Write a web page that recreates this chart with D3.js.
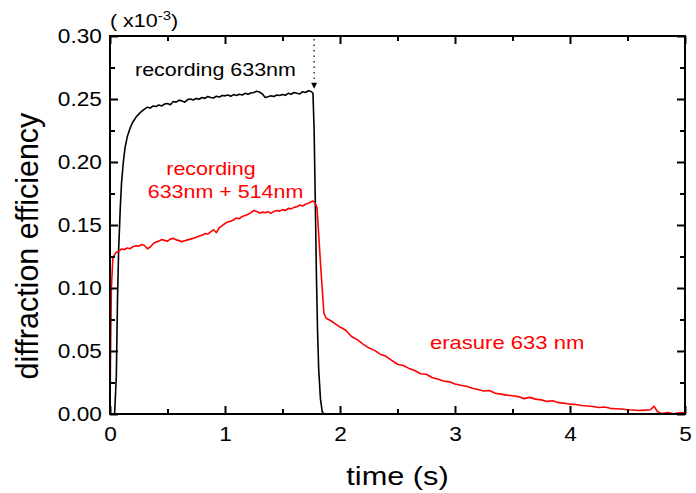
<!DOCTYPE html>
<html>
<head>
<meta charset="utf-8">
<script src="https://cdn.jsdelivr.net/npm/d3@7"></script>
<style>
  body { margin: 0; background: #fff; }
  svg text { font-family: "Liberation Sans", Arial, sans-serif; }
</style>
</head>
<body>
<svg id="canvas" width="696" height="493"></svg>
<script>
// recording with 633nm only
let blackTime = [0, 0.04, 0.055, 0.065, 0.075, 0.09, 0.10, 0.115, 0.13, 0.15, 0.175, 0.20, 0.23, 0.26, 0.28,
    0.30, 0.325, 0.35, 0.375, 0.40, 0.425, 0.45, 0.475, 0.50, 0.525, 0.55, 0.575, 0.60, 0.625, 0.65, 0.675,
    0.70, 0.725, 0.75, 0.775, 0.80, 0.825, 0.85, 0.875, 0.90, 0.925, 0.95, 0.975, 1.00, 1.025, 1.05, 1.075,
    1.10, 1.125, 1.15, 1.175, 1.20, 1.225, 1.25, 1.275, 1.30, 1.325, 1.35, 1.375, 1.40, 1.425, 1.45, 1.475,
    1.50, 1.525, 1.55, 1.575, 1.60, 1.625, 1.65, 1.675, 1.70, 1.725, 1.75, 1.765,
    1.775, 1.785, 1.795, 1.805, 1.815, 1.83, 1.845, 1.86]
let blackValue = [0, 0, 0.03, 0.09, 0.13, 0.165, 0.183, 0.199, 0.211, 0.220, 0.227, 0.232, 0.236, 0.239, 0.2405,
    0.242, 0.2435, 0.2428, 0.2445, 0.2440, 0.2452, 0.2445, 0.246, 0.2465, 0.2455, 0.248, 0.2475, 0.249, 0.2485, 0.2475, 0.2495,
    0.250, 0.2492, 0.2505, 0.2498, 0.2512, 0.2505, 0.252, 0.2512, 0.2508, 0.2522, 0.2515, 0.2528, 0.2525, 0.2532, 0.2522, 0.2535,
    0.2528, 0.2538, 0.2532, 0.2545, 0.2538, 0.2548, 0.2552, 0.2562, 0.2555, 0.2540, 0.2512, 0.2518, 0.2525, 0.2520, 0.2532, 0.2528,
    0.2535, 0.2530, 0.2545, 0.2538, 0.2552, 0.2545, 0.2540, 0.2558, 0.2552, 0.2565, 0.2560, 0.2545,
    0.225, 0.17, 0.11, 0.065, 0.035, 0.012, 0.002, 0]

// recording 633nm + 514nm, then erasure 633nm
let redTime = [0, 0.005, 0.012, 0.025, 0.05, 0.08, 0.10, 0.125, 0.15, 0.175, 0.20, 0.225, 0.25, 0.275, 0.30, 0.325, 0.35, 0.375,
    0.40, 0.425, 0.45, 0.475, 0.50, 0.525, 0.55, 0.575, 0.60, 0.625, 0.65, 0.675, 0.70, 0.725, 0.75, 0.775,
    0.80, 0.825, 0.85, 0.875, 0.90, 0.925, 0.95, 0.975, 1.00, 1.025, 1.05, 1.075, 1.10, 1.125, 1.15, 1.175,
    1.20, 1.225, 1.25, 1.275, 1.30, 1.325, 1.35, 1.375, 1.40, 1.425, 1.45, 1.475, 1.50, 1.525, 1.55, 1.575,
    1.60, 1.625, 1.65, 1.675, 1.70, 1.725, 1.75, 1.765, 1.78, 1.80, 1.83, 1.86,
    1.88, 1.92, 1.96, 2.00, 2.05, 2.10, 2.15, 2.20, 2.25, 2.30, 2.35, 2.40, 2.45, 2.50, 2.55, 2.60, 2.65, 2.70,
    2.75, 2.80, 2.85, 2.90, 2.95, 3.00, 3.05, 3.10, 3.15, 3.20, 3.25, 3.30, 3.35, 3.40, 3.45, 3.50, 3.55, 3.60,
    3.65, 3.70, 3.75, 3.80, 3.85, 3.90, 3.95, 4.00, 4.05, 4.10, 4.15, 4.20, 4.25, 4.30, 4.35, 4.40, 4.45, 4.50,
    4.55, 4.60, 4.65, 4.70, 4.73, 4.76, 4.80, 4.85, 4.90, 4.95, 5.00]
let redValue = [0, 0.05, 0.10, 0.124, 0.128, 0.1295, 0.131, 0.1305, 0.1318, 0.1312, 0.1328, 0.1335, 0.1332, 0.1345, 0.1338, 0.1312, 0.1325, 0.1352,
    0.1365, 0.1372, 0.1385, 0.1378, 0.1372, 0.1388, 0.1395, 0.1382, 0.1376, 0.1368, 0.1375, 0.1382, 0.1388, 0.1395, 0.1402, 0.1412,
    0.1418, 0.1432, 0.1428, 0.1445, 0.1462, 0.1440, 0.1478, 0.1495, 0.1512, 0.1525, 0.1530, 0.1542, 0.1555, 0.1550, 0.1568, 0.1575,
    0.1585, 0.1598, 0.1615, 0.1608, 0.1595, 0.1602, 0.1598, 0.1605, 0.1592, 0.1608, 0.1615, 0.1610, 0.1622, 0.1615, 0.1632, 0.1628,
    0.1640, 0.1645, 0.1658, 0.1650, 0.1665, 0.1672, 0.1685, 0.1690, 0.1680, 0.164, 0.120, 0.080,
    0.0760, 0.0740, 0.0715, 0.0690, 0.0665, 0.0615, 0.0590, 0.0555, 0.0525, 0.0505, 0.0475, 0.0458, 0.0425, 0.0395, 0.0385, 0.0362, 0.0345, 0.0320,
    0.0315, 0.0290, 0.0278, 0.0262, 0.0255, 0.0238, 0.0228, 0.0220, 0.0205, 0.0195, 0.0182, 0.0186, 0.0165, 0.0158, 0.0150, 0.0145, 0.0138, 0.0122,
    0.0132, 0.0118, 0.0112, 0.0100, 0.0105, 0.0090, 0.0085, 0.0078, 0.0075, 0.0068, 0.0064, 0.0060, 0.0052, 0.0055, 0.0045, 0.0042, 0.0040, 0.0034,
    0.0032, 0.0028, 0.0031, 0.0034, 0.0062, 0.0020, 0.0003, 0.0012, 0.0002, 0.0010, 0.0012]

let xTicks = [0, 1, 2, 3, 4, 5]
let xMinor = [0.5, 1.5, 2.5, 3.5, 4.5]
let yTicks = [0, 0.05, 0.10, 0.15, 0.20, 0.25, 0.30]
let yMinor = [0.025, 0.075, 0.125, 0.175, 0.225, 0.275]

let plotLeft = 110, plotRight = 685, plotTop = 36, plotBottom = 414
let stretch = 1.16   // the original figure is a bit wider than tall

let canvas = d3.select("#canvas")

let x = d3.scaleLinear().domain([0, 5]).range([plotLeft, plotRight])
let y = d3.scaleLinear().domain([0, 0.30]).range([plotBottom, plotTop])

let line = d3.line()
    .x((d) => x(d[0]))
    .y((d) => y(d[1]))

let drawCurve = (times, values, color) => {
    let pts = times.map((t, i) => [t, values[i]])
    canvas.append("path")
        .datum(pts)
        .attr("d", line)
        .attr("fill", "none")
        .attr("stroke", color)
        .attr("stroke-width", 1.6)
        .attr("stroke-linejoin", "round")
}

drawCurve(blackTime, blackValue, "black")
drawCurve(redTime, redValue, "red")

// axes, ticks pointing inward on all four sides
let styleAxis = (g, labels) => {
    g.select(".domain").remove()
    g.selectAll("line").attr("stroke", "black").attr("stroke-width", 2)
    g.selectAll("text")
        .attr("font-size", 19.5)
        .attr("fill", "black")
        .attr("transform", "scale(" + stretch + ",1)")
    if (!labels) g.selectAll("text").remove()
}

let bottomAxis = canvas.append("g").attr("transform", "translate(0," + plotBottom + ")")
    .call(d3.axisBottom(x).tickValues(xTicks).tickFormat(d3.format("d")).tickSizeInner(-8).tickPadding(13))
styleAxis(bottomAxis, true)

let bottomMinor = canvas.append("g").attr("transform", "translate(0," + plotBottom + ")")
    .call(d3.axisBottom(x).tickValues(xMinor).tickFormat("").tickSizeInner(-5))
styleAxis(bottomMinor, false)

let topAxis = canvas.append("g").attr("transform", "translate(0," + plotTop + ")")
    .call(d3.axisTop(x).tickValues(xTicks).tickSizeInner(-8))
styleAxis(topAxis, false)
let topMinor = canvas.append("g").attr("transform", "translate(0," + plotTop + ")")
    .call(d3.axisTop(x).tickValues(xMinor).tickSizeInner(-5))
styleAxis(topMinor, false)

let leftAxis = canvas.append("g").attr("transform", "translate(" + plotLeft + ",0)")
    .call(d3.axisLeft(y).tickValues(yTicks).tickFormat(d3.format(".2f")).tickSizeInner(-8).tickPadding(7))
styleAxis(leftAxis, true)
let leftMinor = canvas.append("g").attr("transform", "translate(" + plotLeft + ",0)")
    .call(d3.axisLeft(y).tickValues(yMinor).tickSizeInner(-5))
styleAxis(leftMinor, false)

let rightAxis = canvas.append("g").attr("transform", "translate(" + plotRight + ",0)")
    .call(d3.axisRight(y).tickValues(yTicks).tickSizeInner(-8))
styleAxis(rightAxis, false)
let rightMinor = canvas.append("g").attr("transform", "translate(" + plotRight + ",0)")
    .call(d3.axisRight(y).tickValues(yMinor).tickSizeInner(-5))
styleAxis(rightMinor, false)

// frame
canvas.append("rect")
    .attr("x", plotLeft).attr("y", plotTop)
    .attr("width", plotRight - plotLeft).attr("height", plotBottom - plotTop)
    .attr("fill", "none").attr("stroke", "black").attr("stroke-width", 2)

// stretched text helper
let addText = (px, py, str, size, color, anchor) => {
    return canvas.append("text")
        .attr("x", px / stretch).attr("y", py)
        .attr("transform", "scale(" + stretch + ",1)")
        .attr("font-size", size)
        .attr("fill", color)
        .attr("text-anchor", anchor)
        .text(str)
}

// axis titles
addText((plotLeft + plotRight) / 2, 485, "time (s)", 26.5, "black", "middle")

canvas.append("text")
    .attr("transform", "translate(38,246) rotate(-90)")
    .attr("text-anchor", "middle").attr("font-size", 30.5)
    .text("diffraction efficiency")

let mult = addText(110, 27, "", 18.5, "black", "start")
mult.append("tspan").text("( x10")
mult.append("tspan").attr("font-size", 13).attr("dy", -7).text("-3")
mult.append("tspan").attr("dy", 7).text(")")

// annotations
addText(135, 76, "recording 633nm", 18.5, "black", "start")
addText(211, 175, "recording", 18.5, "red", "middle")
addText(225.5, 198, "633nm + 514nm", 18.5, "red", "middle")
addText(430, 349, "erasure 633 nm", 19, "red", "start")

// dotted arrow marking end of recording
let tEnd = 1.775
canvas.append("line")
    .attr("x1", x(tEnd)).attr("x2", x(tEnd))
    .attr("y1", y(0.30) + 3).attr("y2", y(0.259))
    .attr("stroke", "black").attr("stroke-width", 1.2).attr("stroke-dasharray", "1.5,4")
canvas.append("path")
    .attr("d", "M" + (x(tEnd) - 3) + "," + (y(0.259) - 5) + " L" + (x(tEnd) + 3) + "," + (y(0.259) - 5) + " L" + x(tEnd) + "," + (y(0.259) + 1) + " Z")
    .attr("fill", "black")
</script>
</body>
</html>
